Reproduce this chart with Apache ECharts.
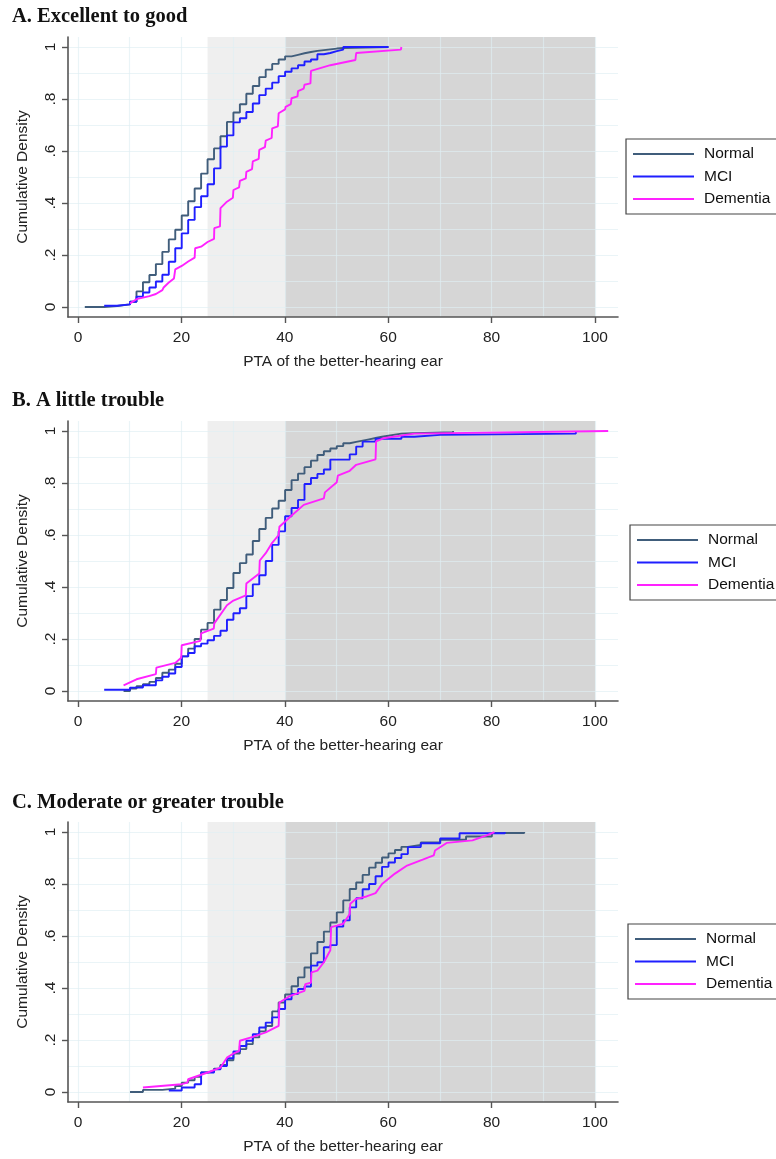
<!DOCTYPE html>
<html>
<head>
<meta charset="utf-8">
<script src="https://cdn.jsdelivr.net/npm/echarts@6.0.0/dist/echarts.min.js"></script>
<style>
  html, body { margin: 0; padding: 0; background: #fff; }
  #chart { width: 776px; height: 1159px; }
</style>
</head>
<body>
<div id="chart"></div>
<script>
// groups, titles, tick labels
const groups = ["Normal", "MCI", "Dementia"];
const panelTitles = ["A. Excellent to good", "B. A little trouble", "C. Moderate or greater trouble"];
const yTickLabels = ["0", ".2", ".4", ".6", ".8", "1"];
const shadeBands = [25, 40, 100]; // hearing loss zones: mild 25-40, moderate+ 40-100

// A. Excellent to good  [PTA, cumulative density]
const aNormal = [[1.25,0],[5,0.004],[7.5,0.01],[10,0.02],[11.25,0.06],[12.5,0.095],[13.75,0.123],[15,0.165],[16.25,0.212],[17.5,0.26],[18.75,0.297],[20,0.352],[21.25,0.407],[22.5,0.456],[23.75,0.513],[25,0.568],[26.25,0.61],[27.5,0.657],[28.75,0.712],[30,0.748],[31.25,0.78],[32.5,0.82],[33.75,0.85],[35,0.884],[36.25,0.913],[37.5,0.935],[38.75,0.952],[40,0.964],[41.25,0.97],[42.5,0.976],[43.75,0.981],[45,0.985],[46.25,0.988],[47.5,0.991],[48.75,0.994],[50,0.996],[51.25,1],[60,1]];
const aMci = [[5,0.005],[7.5,0.01],[10,0.02],[11.25,0.04],[12.5,0.056],[13.75,0.075],[15,0.098],[16.25,0.124],[17.5,0.174],[18.75,0.226],[20,0.283],[21.25,0.335],[22.5,0.384],[23.75,0.426],[25,0.472],[26.25,0.533],[27.5,0.617],[28.75,0.66],[30,0.71],[31.25,0.726],[32.5,0.75],[33.75,0.783],[35,0.815],[36.25,0.84],[37.5,0.863],[38.75,0.888],[40,0.905],[41.25,0.918],[42.5,0.93],[43.75,0.944],[45,0.952],[46.25,0.972],[47.5,0.977],[48.75,0.984],[50,0.99],[51.25,1],[60,1]];
const aDementia = [[10,0.014],[11.25,0.03],[13.75,0.042],[15,0.05],[16.25,0.065],[16.5,0.075],[17.5,0.094],[18.5,0.11],[18.75,0.145],[20,0.158],[21.25,0.175],[22.5,0.19],[22.6,0.226],[23.75,0.232],[25,0.25],[26.25,0.262],[26.3,0.303],[27.4,0.31],[27.5,0.38],[28.75,0.405],[29.9,0.42],[30,0.45],[31.1,0.46],[31.25,0.485],[32.4,0.495],[32.5,0.52],[33.6,0.53],[33.75,0.56],[34.9,0.57],[35,0.604],[36.1,0.615],[36.25,0.64],[37.4,0.65],[37.5,0.687],[38.6,0.695],[38.75,0.745],[40,0.76],[40.1,0.77],[41.1,0.78],[41.25,0.803],[42.4,0.81],[42.5,0.83],[43.6,0.84],[43.75,0.855],[44.9,0.86],[45,0.908],[48.75,0.93],[53.6,0.95],[53.75,0.977],[62.4,0.99],[62.5,1]];

// B. A little trouble
const bNormal = [[8.75,0],[10,0.009],[11.25,0.018],[12.5,0.026],[13.75,0.035],[15,0.05],[16.25,0.07],[17.5,0.082],[18.75,0.105],[20,0.133],[21.25,0.163],[22.5,0.2],[23.75,0.236],[25,0.262],[26.25,0.313],[27.5,0.35],[28.75,0.396],[30,0.454],[31.25,0.492],[32.5,0.525],[33.75,0.577],[35,0.623],[36.25,0.666],[37.5,0.702],[38.75,0.732],[40,0.773],[41.25,0.811],[42.5,0.836],[43.75,0.861],[45,0.886],[46.25,0.908],[47.5,0.922],[48.75,0.933],[50,0.942],[51.25,0.953],[52.5,0.958],[53.75,0.963],[55,0.968],[56.25,0.973],[57.5,0.978],[58.75,0.982],[60,0.986],[61.25,0.99],[62.5,0.992],[65,0.995],[72.5,1]];
const bMci = [[5,0.005],[10,0.013],[12.5,0.022],[15,0.041],[16.25,0.055],[17.5,0.067],[18.75,0.092],[20,0.133],[21.25,0.146],[22.5,0.172],[23.75,0.182],[25,0.195],[26.25,0.212],[27.5,0.232],[28.75,0.274],[30,0.299],[31.25,0.318],[32.5,0.365],[33.75,0.41],[35,0.445],[36.25,0.5],[37.5,0.562],[38.75,0.614],[40,0.672],[41.25,0.704],[42.5,0.735],[43.75,0.796],[45,0.819],[46.25,0.835],[47.5,0.852],[48.75,0.89],[52.5,0.91],[53.75,0.94],[55,0.959],[57.5,0.97],[62.5,0.978],[65,0.985],[70,0.99],[96.25,1]];
const bDementia = [[8.75,0.022],[11.25,0.045],[15,0.065],[15.1,0.09],[18.75,0.108],[19.9,0.128],[20,0.176],[23.6,0.193],[23.75,0.222],[26.2,0.24],[26.3,0.26],[28.75,0.33],[30,0.348],[32.4,0.368],[32.5,0.413],[35,0.452],[35.1,0.502],[36.25,0.53],[37.5,0.57],[38.75,0.6],[38.9,0.632],[41,0.67],[43.6,0.716],[47.5,0.741],[47.7,0.764],[50,0.803],[50.2,0.828],[52.5,0.847],[53.75,0.87],[57.5,0.891],[57.6,0.96],[59,0.972],[65,0.99],[102.5,1]];

// C. Moderate or greater trouble
const cNormal = [[10,0],[12.5,0.008],[16.25,0.013],[18.75,0.023],[20,0.036],[21.25,0.045],[22.5,0.058],[23.75,0.075],[25,0.081],[26.25,0.09],[27.5,0.104],[28.75,0.122],[30,0.148],[31.25,0.165],[32.5,0.184],[33.75,0.21],[35,0.233],[36.25,0.254],[37.5,0.31],[38.75,0.344],[40,0.375],[41.25,0.407],[42.5,0.441],[43.75,0.479],[45,0.533],[46.25,0.577],[47.5,0.617],[48.75,0.652],[50,0.691],[51.25,0.737],[52.5,0.781],[53.75,0.806],[55,0.835],[56.25,0.863],[57.5,0.882],[58.75,0.902],[60,0.918],[61.25,0.931],[62.5,0.943],[63.75,0.95],[66.25,0.96],[70,0.97],[75,0.983],[80,0.996],[86.25,1]];
const cMci = [[17.5,0.006],[20,0.017],[22.5,0.03],[23.75,0.075],[26.25,0.087],[27.5,0.1],[28.75,0.13],[30,0.156],[31.25,0.177],[32.5,0.197],[33.75,0.222],[35,0.248],[36.25,0.267],[37.5,0.287],[38.75,0.319],[40,0.357],[41.25,0.377],[42.5,0.396],[43.75,0.406],[45,0.486],[46.25,0.499],[47.5,0.557],[48.75,0.565],[50,0.636],[51.25,0.66],[52.5,0.71],[53.75,0.745],[55,0.78],[56.25,0.8],[57.5,0.83],[58.75,0.866],[60,0.883],[61.25,0.9],[62.5,0.915],[63.75,0.942],[66.25,0.957],[70,0.975],[73.75,0.995],[82.5,1]];
const cDementia = [[12.5,0.017],[20,0.03],[21.1,0.036],[21.25,0.049],[25,0.075],[27.5,0.094],[28.75,0.132],[30,0.148],[31.1,0.158],[31.25,0.197],[33.75,0.212],[36.25,0.229],[38.75,0.254],[38.9,0.344],[41,0.37],[43.75,0.389],[43.9,0.415],[45,0.42],[45.1,0.46],[46.25,0.467],[47.5,0.499],[48.75,0.545],[48.9,0.634],[50,0.64],[51.25,0.647],[52.5,0.685],[52.6,0.724],[53.75,0.743],[55.75,0.752],[57.5,0.765],[58.75,0.8],[61.25,0.84],[63.6,0.871],[68.75,0.91],[69,0.929],[71.25,0.958],[76.25,0.968],[79,0.987],[80.5,1]];

const curves = [[aNormal, aMci, aDementia], [bNormal, bMci, bDementia], [cNormal, cMci, cDementia]];

let chart = echarts.init(document.getElementById("chart"));

const sans = "Liberation Sans, Arial, sans-serif";
const colors = ["#405d7b", "#1f1fff", "#ff22ff"];
const steps = ["end", "end", false];
const gridColor = "rgba(222,238,243,0.65)";
const axisColor = "#555";

const panelTop = [37, 421, 822];
const titleTop = [6, 390, 792];
const legendTop = [139, 525, 924];
const legendLeft = [626, 630, 628];

let grid = [], xAxis = [], yAxis = [], series = [], title = [], legend = [];

panelTop.forEach(function (top, p) {
  const g = grid.length;
  grid.push({ left: 68, top: top, width: 550, height: 280 });      // plot area
  grid.push({ left: 78, top: top, width: 517, height: 280 });      // x ticks 0..100
  grid.push({ left: 68, top: top + 10, width: 550, height: 260 }); // y ticks 0..1

  // plot axes (lines + names only)
  xAxis.push({
    gridIndex: g, type: "value", min: -2, max: 104.4, z: 4,
    axisLine: { show: true, onZero: false, lineStyle: { color: axisColor, width: 1.6 } },
    axisTick: { show: false }, axisLabel: { show: false }, splitLine: { show: false },
    name: "PTA of the better-hearing ear", nameLocation: "middle", nameGap: 37,
    nameTextStyle: { fontFamily: sans, fontSize: 15.5, color: "#222" }
  });
  yAxis.push({
    gridIndex: g, type: "value", min: -0.0385, max: 1.0385, z: 4,
    axisLine: { show: true, onZero: false, lineStyle: { color: axisColor, width: 1.6 } },
    axisTick: { show: false }, axisLabel: { show: false }, splitLine: { show: false },
    name: "Cumulative Density", nameLocation: "middle", nameGap: 37,
    nameTextStyle: { fontFamily: sans, fontSize: 15.5, color: "#222" }
  });

  // x ticks + vertical grid lines
  xAxis.push({
    gridIndex: g + 1, type: "value", min: 0, max: 100, interval: 20, z: 2,
    axisLine: { show: false },
    axisTick: { show: true, length: 6, lineStyle: { color: axisColor, width: 1.4 } },
    axisLabel: { fontFamily: sans, fontSize: 15.5, color: "#222", margin: 13 },
    splitLine: { show: true, lineStyle: { color: gridColor, width: 1.2 } },
    minorTick: { show: false, splitNumber: 2 },
    minorSplitLine: { show: true, lineStyle: { color: gridColor, width: 1.2 } }
  });
  yAxis.push({ gridIndex: g + 1, type: "value", min: 0, max: 1, show: false });

  // y ticks + horizontal grid lines
  xAxis.push({ gridIndex: g + 2, type: "value", min: 0, max: 1, show: false });
  yAxis.push({
    gridIndex: g + 2, type: "value", min: 0, max: 1, interval: 0.2, z: 2,
    axisLine: { show: false },
    axisTick: { show: true, length: 6, lineStyle: { color: axisColor, width: 1.4 } },
    axisLabel: {
      fontFamily: sans, fontSize: 15.5, color: "#222", rotate: 90, margin: 9,
      formatter: function (v) { return yTickLabels[Math.round(v / 0.2)]; }
    },
    splitLine: { show: true, lineStyle: { color: gridColor, width: 1.2 } },
    minorTick: { show: false, splitNumber: 2 },
    minorSplitLine: { show: true, lineStyle: { color: gridColor, width: 1.2 } }
  });

  // shaded hearing-loss zones
  series.push({
    type: "line", data: [], xAxisIndex: g, yAxisIndex: g, z: 0, silent: true,
    markArea: {
      silent: true, z: 0,
      data: [
        [{ xAxis: shadeBands[0], itemStyle: { color: "#efefef" } }, { xAxis: shadeBands[1] }],
        [{ xAxis: shadeBands[1], itemStyle: { color: "#d6d6d6" } }, { xAxis: shadeBands[2] }]
      ]
    }
  });

  groups.forEach(function (name, i) {
    series.push({
      type: "line", name: name, data: curves[p][i],
      xAxisIndex: g, yAxisIndex: g, z: 3,
      step: steps[i], symbol: "none", showSymbol: false,
      lineStyle: { color: colors[i], width: 1.9 },
      itemStyle: { color: colors[i] },
      emphasis: { disabled: true }
    });
  });

  title.push({
    text: panelTitles[p], left: 12, top: titleTop[p], padding: 0,
    textStyle: { fontFamily: "Liberation Serif, Times New Roman, serif", fontWeight: "bold", fontSize: 20.5, color: "#111" }
  });

  legend.push({
    orient: "vertical", left: legendLeft[p], top: legendTop[p],
    data: groups, icon: "rect", itemWidth: 61, itemHeight: 2, itemGap: 2.5,
    padding: [5, 7, 5, 7], borderColor: "#444", borderWidth: 1.2,
    selectedMode: false,
    textStyle: { fontFamily: sans, fontSize: 15.5, color: "#111", lineHeight: 20, padding: [0, 0, 0, 5] }
  });
});

chart.setOption({
  animation: false,
  backgroundColor: "#fff",
  title: title,
  legend: legend,
  grid: grid,
  xAxis: xAxis,
  yAxis: yAxis,
  series: series
});
</script>
</body>
</html>
